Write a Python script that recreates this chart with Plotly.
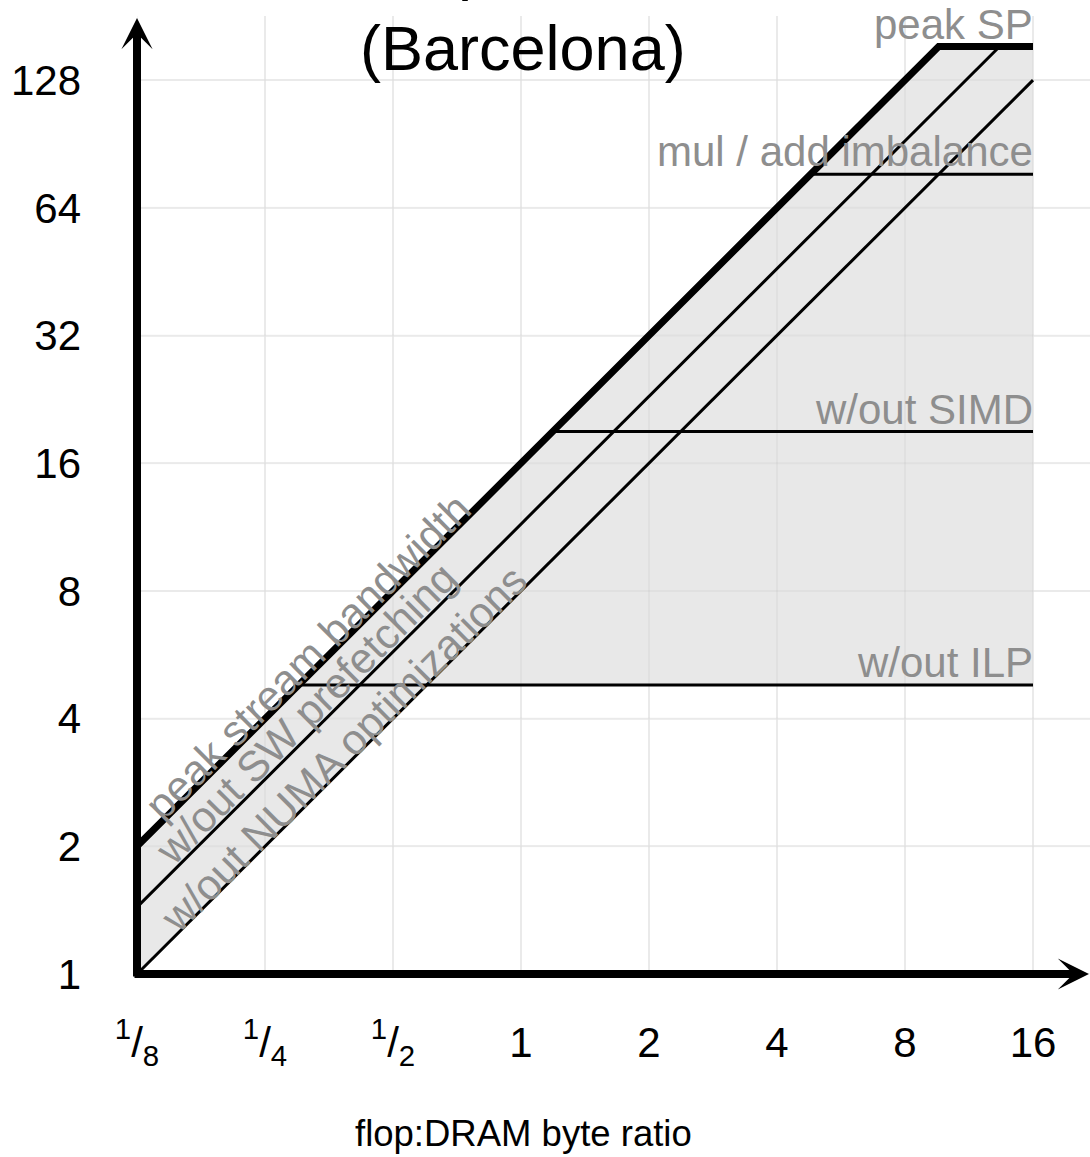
import numpy as np
import plotly.graph_objects as go

# ---------------- data ----------------
x_ticks = [0.125, 0.25, 0.5, 1, 2, 4, 8, 16]
x_tick_labels = ["<sup>1</sup>/<sub>8</sub>", "<sup>1</sup>/<sub>4</sub>", "<sup>1</sup>/<sub>2</sub>",
                 "1", "2", "4", "8", "16"]
y_ticks = [1, 2, 4, 8, 16, 32, 64, 128]
y_tick_labels = ["1", "2", "4", "8", "16", "32", "64", "128"]

# in-core ceilings (GFlop/s): peak first
ceiling_names = ["peak SP", "mul / add imbalance", "w/out SIMD", "w/out ILP"]
ceiling_gflops = [153.6, 76.8, 19.0, 4.8]

# bandwidth ceilings (GB/s): peak first
bandwidth_names = ["peak stream bandwidth", "w/out SW prefetching", "w/out NUMA optimizations"]
bandwidth_gbs = [16.0, 11.5, 8.0]

x_min, x_max = 0.125, 16.0

title_lines = ["Opteron", "(Barcelona)"]
x_title = "flop:DRAM byte ratio"

# ---------------- layout geometry ----------------
W, H = 1090, 1157
ML, MR, MT, MB = 137, 0, 16, 183
plot_w = W - ML - MR
plot_h = H - MT - MB
bottom_px = MT + plot_h
px_per_oct_x = 128.0
px_per_oct_y = 127.7
L2 = np.log10(2)
x_range = [np.log10(x_min), np.log10(x_min) + plot_w / px_per_oct_x * L2]
y_range = [0.0, plot_h / px_per_oct_y * L2]

FONT = "Liberation Sans, Arial, Helvetica, sans-serif"
GRAY = "#8e8e8e"
FILL = "#e8e8e8"

peak = ceiling_gflops[0]
bw_peak = bandwidth_gbs[0]
bw_low = bandwidth_gbs[-1]
ilp_low = ceiling_gflops[-1]

fig = go.Figure()

# shaded region between top roofline and lowest roofline
top_x = [x_min, peak / bw_peak, x_max]
top_y = [bw_peak * x_min, peak, peak]
bot_x = [x_max, ilp_low / bw_low, x_min]
bot_y = [ilp_low, ilp_low, bw_low * x_min]
fig.add_trace(go.Scatter(x=top_x + bot_x, y=top_y + bot_y, mode="lines", fill="toself",
                         fillcolor=FILL, line=dict(width=0), hoverinfo="skip", showlegend=False))

# faint grid overlay so the grid stays visible inside the shaded area
gx, gy = [], []
for t in x_ticks:
    gx += [t, t, None]
    gy += [1, 10 ** y_range[1], None]
for t in y_ticks:
    gx += [x_min, 10 ** x_range[1], None]
    gy += [t, t, None]
fig.add_trace(go.Scatter(x=gx, y=gy, mode="lines", line=dict(color="rgba(0,0,0,0.03)", width=2),
                         hoverinfo="skip", showlegend=False))

# lower in-core ceilings (flat parts)
for c in ceiling_gflops[1:]:
    fig.add_trace(go.Scatter(x=[c / bw_peak, x_max], y=[c, c], mode="lines",
                             line=dict(color="black", width=3), showlegend=False))

# lower bandwidth ceilings (diagonals)
for b in bandwidth_gbs[1:]:
    xe = min(peak / b, x_max)
    fig.add_trace(go.Scatter(x=[x_min, xe], y=[b * x_min, b * xe], mode="lines",
                             line=dict(color="black", width=3), showlegend=False))

# peak roofline
fig.add_trace(go.Scatter(x=top_x, y=top_y, mode="lines",
                         line=dict(color="black", width=7), showlegend=False))

annotations = []

# ceiling labels (right aligned at x_max, just above their line)
for name, c in zip(ceiling_names, ceiling_gflops):
    annotations.append(dict(x=np.log10(x_max), y=np.log10(c), xref="x", yref="y",
                            text=name, showarrow=False, xanchor="right", yanchor="bottom",
                            xshift=2, yshift=-3, font=dict(family=FONT, size=42, color=GRAY)))

# diagonal labels (centres in data coordinates)
diag_label_pos = [(0.3139, 5.588), (0.3121, 4.123), (0.3814, 3.391)]
for name, (lx, ly) in zip(bandwidth_names, diag_label_pos):
    annotations.append(dict(x=np.log10(lx), y=np.log10(ly), xref="x", yref="y",
                            text=name, showarrow=False, textangle=-45,
                            xanchor="center", yanchor="middle",
                            font=dict(family=FONT, size=42.5, color=GRAY)))

# title (first line falls above the page, as in the reference)
annotations.append(dict(x=0, y=(bottom_px - 85) / plot_h, xref="x", yref="paper",
                        text="<br>".join(title_lines), showarrow=False,
                        xanchor="center", yanchor="bottom", xshift=2,
                        font=dict(family=FONT, size=63, color="black")))

# x-axis title
annotations.append(dict(x=0, y=-(1133 - bottom_px) / plot_h, xref="x", yref="paper",
                        text=x_title, showarrow=False, xanchor="center", yanchor="middle",
                        xshift=2, font=dict(family=FONT, size=36.5, color="black")))

# axis arrows
annotations.append(dict(x=0, y=(bottom_px - 18) / plot_h, xref="paper", yref="paper",
                        ax=0, ay=(bottom_px + 4) - 18, axref="pixel", ayref="pixel",
                        text="", showarrow=True, arrowhead=3, arrowsize=0.65, arrowwidth=8,
                        arrowcolor="black", standoff=0, startstandoff=0))
annotations.append(dict(x=(1101 - ML) / plot_w, y=0, xref="paper", yref="paper",
                        ax=-(1101 - ML + 4), ay=0, axref="pixel", ayref="pixel",
                        text="", showarrow=True, arrowhead=3, arrowsize=0.65, arrowwidth=8,
                        arrowcolor="black", standoff=0, startstandoff=0))

fig.update_layout(
    width=W, height=H,
    margin=dict(l=ML, r=MR, t=MT, b=MB, pad=0),
    paper_bgcolor="white", plot_bgcolor="white",
    showlegend=False,
    annotations=annotations,
    font=dict(family=FONT, size=42, color="black"),
)
fig.update_xaxes(type="log", range=x_range, tickvals=x_ticks, ticktext=x_tick_labels,
                 showgrid=True, gridcolor="#f2f2f2", gridwidth=2, zeroline=False,
                 showline=False, ticks="", ticklabelstandoff=40,
                 tickfont=dict(family=FONT, size=42, color="black"), fixedrange=True)
fig.update_yaxes(type="log", range=y_range, tickvals=y_ticks, ticktext=y_tick_labels,
                 showgrid=True, gridcolor="#f2f2f2", gridwidth=2, zeroline=False,
                 showline=False, ticks="", ticklabelstandoff=55,
                 tickfont=dict(family=FONT, size=42, color="black"), fixedrange=True)

fig.write_html("out.html")
